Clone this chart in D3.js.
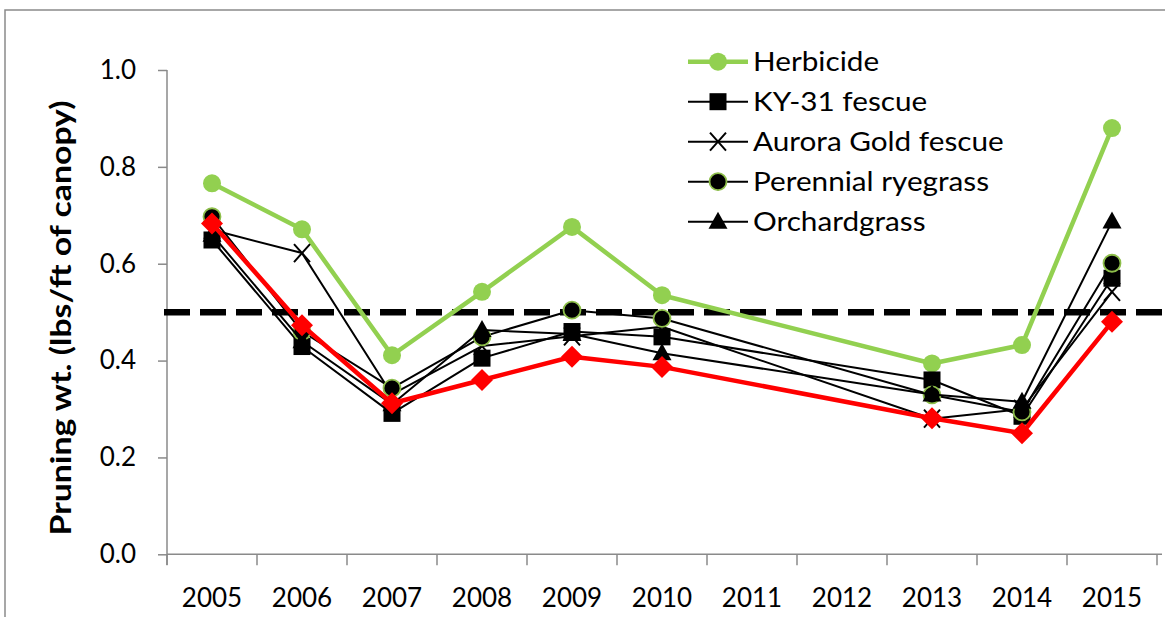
<!DOCTYPE html>
<html><head><meta charset="utf-8">
<script src="https://cdn.jsdelivr.net/npm/d3@7"></script>
<style>body{margin:0;background:#fff;} svg{display:block;}</style>
</head><body>
<svg id="c" width="1165" height="617"></svg>
<script>
const years = ["2005","2006","2007","2008","2009","2010","2011","2012","2013","2014","2015"];
const herbicide = [0.766,0.671,0.411,0.542,0.676,0.535,null,null,0.394,0.432,0.880];
const ky31      = [0.649,0.429,0.291,0.405,0.460,0.449,null,null,0.360,0.285,0.570];
const aurora    = [0.670,0.622,0.330,0.430,0.450,0.470,null,null,0.280,0.300,0.542];
const perennial = [0.697,0.460,0.343,0.449,0.504,0.487,null,null,0.329,0.294,0.601];
const orchard   = [0.660,0.440,0.310,0.463,0.455,0.415,null,null,0.330,0.315,0.687];
const redSeries = [0.683,0.473,0.312,0.360,0.408,0.387,null,null,0.281,0.250,0.480];
const threshold = 0.5;
const yTicks = [0,0.2,0.4,0.6,0.8,1.0];
const seriesNames = ["Herbicide","KY-31 fescue","Aurora Gold fescue","Perennial ryegrass","Orchardgrass"];

const GREEN = "#92D050", RED = "#FF0000";
const svg = d3.select("#c");
const FONT = "Lato, 'Open Sans', sans-serif";

// outer frame
svg.append("rect").attr("x",5).attr("y",10).attr("width",1175).attr("height",620)
  .attr("fill","none").attr("stroke","#8a8a8a").attr("stroke-width",1.5);

const x = d3.scaleBand().domain(years).range([167,1157]);
const y = d3.scaleLinear().domain([0,1]).range([554.3,70]);
const cx = d => x(d) + x.bandwidth()/2;

// y axis
const yAxis = svg.append("g").attr("transform","translate(167,0)")
  .call(d3.axisLeft(y).tickValues(yTicks).tickFormat(d3.format(".1f")).tickSize(9).tickPadding(22));
yAxis.select(".domain").attr("stroke","#8a8a8a").attr("stroke-width",1.5).attr("d","M0,70V565");
yAxis.selectAll(".tick line").attr("stroke","#8a8a8a").attr("stroke-width",1.5);
yAxis.selectAll("text").attr("font-family",FONT).attr("font-size",26).attr("fill","#000");

// x axis
const xAxis = svg.append("g").attr("transform","translate(0,554.3)")
  .call(d3.axisBottom(x).tickSize(0).tickPadding(34));
xAxis.select(".domain").attr("stroke","#8a8a8a").attr("stroke-width",1.5).attr("d","M167,0H1162");
xAxis.selectAll("text").attr("font-family",FONT).attr("font-size",26).attr("fill","#000");
// category boundary ticks
const bounds = years.map(d=>x(d)).concat([x(years[years.length-1])+x.bandwidth()]);
xAxis.selectAll(".btick").data(bounds).enter().append("line")
  .attr("x1",d=>d).attr("x2",d=>d).attr("y1",0).attr("y2",11)
  .attr("stroke","#8a8a8a").attr("stroke-width",1.5);

// y title
svg.append("text").attr("transform","translate(71,318) rotate(-90)")
  .attr("text-anchor","middle").attr("font-family",FONT).attr("font-weight","bold")
  .attr("font-size",29).attr("textLength",435).attr("lengthAdjust","spacingAndGlyphs")
  .text("Pruning wt. (lbs/ft of canopy)");

// threshold dashed line
svg.append("line").attr("x1",x(years[0])-3).attr("x2",1165)
  .attr("y1",y(threshold)).attr("y2",y(threshold))
  .attr("stroke","#000").attr("stroke-width",6.5).attr("stroke-dasharray","26,10");

const line = d3.line().x(d=>cx(d.year)).y(d=>y(d.v));
function pts(arr){ return years.map((yr,i)=>({year:yr,v:arr[i]})).filter(d=>d.v!=null); }

const markers = {
  circleGreen: g => g.append("circle").attr("r",9).attr("fill",GREEN),
  square: g => g.append("rect").attr("x",-8.5).attr("y",-8.5).attr("width",17).attr("height",17).attr("fill","#000"),
  cross: g => g.append("path").attr("d","M-8,-9L8,9M-8,9L8,-9").attr("stroke","#000").attr("stroke-width",2).attr("fill","none"),
  circleDark: g => g.append("circle").attr("r",8.5).attr("fill","#000").attr("stroke","#8DBE4A").attr("stroke-width",1.8),
  triangle: g => g.append("path").attr("d","M0,-10L9.5,7L-9.5,7Z").attr("fill","#000"),
  diamond: g => g.append("path").attr("d","M0,-11L11,0L0,11L-11,0Z").attr("fill",RED)
};

const series = [
  {name:seriesNames[0], data:herbicide, color:GREEN, width:4.5, marker:"circleGreen"},
  {name:seriesNames[1], data:ky31, color:"#000", width:2, marker:"square"},
  {name:seriesNames[2], data:aurora, color:"#000", width:2, marker:"cross"},
  {name:seriesNames[3], data:perennial, color:"#000", width:2, marker:"circleDark"},
  {name:seriesNames[4], data:orchard, color:"#000", width:2, marker:"triangle"},
  {name:null, data:redSeries, color:RED, width:4.5, marker:"diamond"}
];

series.forEach(s=>{
  const p = pts(s.data);
  svg.append("path").datum(p).attr("d",line).attr("fill","none")
    .attr("stroke",s.color).attr("stroke-width",s.width).attr("stroke-linejoin","round");
  p.forEach(d=>{
    const g = svg.append("g").attr("transform",`translate(${cx(d.year)},${y(d.v)})`);
    markers[s.marker](g);
  });
});

// legend
const leg = svg.append("g");
series.filter(s=>s.name).forEach((s,i)=>{
  const yy = 61.7 + i*40;
  const g = leg.append("g").attr("transform",`translate(0,${yy})`);
  g.append("line").attr("x1",688).attr("x2",748).attr("y1",0).attr("y2",0)
    .attr("stroke",s.color).attr("stroke-width",s.width);
  const m = g.append("g").attr("transform","translate(718,0)");
  markers[s.marker](m);
  g.append("text").attr("transform","translate(753,0) scale(1.1,1)").attr("dy","0.35em")
    .attr("font-family",FONT).attr("font-size",27).text(s.name);
});
</script>
</body></html>
